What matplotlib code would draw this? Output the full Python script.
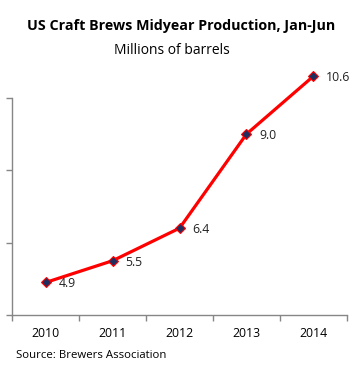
import matplotlib

matplotlib.use("Agg")
import matplotlib.pyplot as plt  # noqa: E402

years = ["2010", "2011", "2012", "2013", "2014"]
barrels = [4.9, 5.5, 6.4, 9.0, 10.6]
labels = ["4.9", "5.5", "6.4", "9.0", "10.6"]

AXIS_GRAY = "#868686"
LINE_RED = "#ff0000"
MARKER_NAVY = "#1f2f5f"

plt.rcParams["font.family"] = ["Open Sans", "DejaVu Sans"]

fig = plt.figure(figsize=(3.62, 3.71), dpi=100)
ax = fig.add_axes([0.034, 0.151, 0.924, 0.585])

x = list(range(len(years)))
ax.plot(x, barrels, color=LINE_RED, linewidth=2.3, marker="D", markersize=5,
        markerfacecolor=MARKER_NAVY, markeredgecolor=LINE_RED, markeredgewidth=0.8,
        clip_on=False, zorder=3)
for xi, v, lab in zip(x, barrels, labels):
    ax.annotate(lab, (xi, v), xytext=(9, -1), textcoords="offset points",
                ha="left", va="center", fontsize=8.8, color="#222222",
                annotation_clip=False)

ax.set_xlim(-0.5, len(years) - 0.5)
ax.set_ylim(4, 10)
ax.set_yticks([4, 6, 8, 10])
ax.set_yticklabels([])
ax.set_xticks([i - 0.5 for i in range(len(years) + 1)])
ax.set_xticklabels([])
ax.set_xticks(x, minor=True)
ax.set_xticklabels(years, minor=True, fontsize=8.8)
ax.tick_params(axis="x", which="minor", length=0, pad=9)
ax.tick_params(axis="both", which="major", length=4, width=1, color=AXIS_GRAY)

for side in ["top", "right"]:
    ax.spines[side].set_visible(False)
for side in ["left", "bottom"]:
    ax.spines[side].set_color(AXIS_GRAY)
    ax.spines[side].set_linewidth(1)

fig.text(0.5, 0.93, "US Craft Brews Midyear Production, Jan-Jun", ha="center", va="center",
         fontsize=10.3, fontweight="bold")
fig.text(0.476, 0.865, "Millions of barrels", ha="center", va="center", fontsize=10)
fig.text(0.044, 0.042, "Source: Brewers Association", ha="left", va="center", fontsize=8.2)

fig.savefig("out.png", dpi=100)
